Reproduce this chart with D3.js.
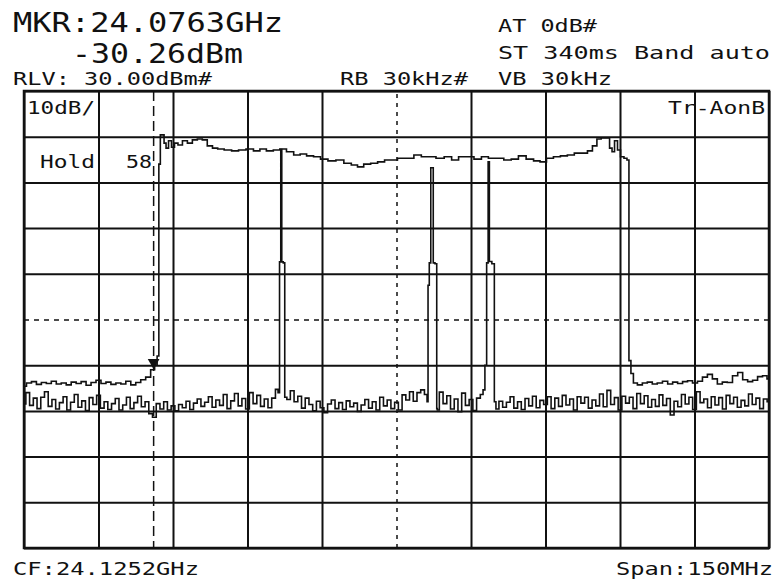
<!doctype html>
<html>
<head>
<meta charset="utf-8">
<script src="https://d3js.org/d3.v7.min.js"></script>
<style>
  body { margin: 0; background: #fff; }
  svg text { font-family: "DejaVu Sans Mono", monospace; fill: #111; }
</style>
</head>
<body>
<script>
  var W = 775, H = 583;
  var box = {left: 24, right: 769, top: 91, bottom: 548};

  // analyzer settings
  var cfMHz = 24125.2, spanMHz = 150;
  var refLevel = 30, dbPerDiv = 10, divs = 10;
  var markerMHz = 24076.3, markerDbm = -30.26;

  // trace A (max hold), [MHz from sweep start, dBm]
  var holdTrace = [
    [0,-34.6],[1,-33.9],[2,-33.6],[3,-34.2],[4,-33.8],[5,-34.0],[6,-33.5],[7,-34.1],[8,-33.9],[9,-34.3],
    [10,-33.7],[11,-34.0],[12,-33.6],[13,-34.4],[14,-33.8],[15,-33.3],[16,-34.0],[17,-33.7],[18,-34.2],
    [19,-33.9],[20,-34.1],[21,-33.5],[22,-34.3],[23,-33.8],[24,-33.2],[25,-32.6],[26,-31.0],[26.6,-30.0],
    [27.0,-28],[27.3,14],[27.6,20.4],[28.0,20.4],[28.4,18.6],[28.8,17.5],[29.4,19.1],[30.0,17.7],[30.6,18.6],
    [31.4,18.2],[32.4,19.1],[33.4,18.6],[34.4,19.3],[35.4,19.5],[36.4,19.3],[37.4,18.0],[38.5,17.5],
    [39.5,17.3],[41.1,17.1],[42.5,16.9],[43.9,17.1],[45.5,17.3],[46.9,16.9],[48.1,17.3],[49.5,16.9],
    [50.9,17.1],[52.1,17.3],[53.6,16.7],[55.0,16.0],[56.2,16.2],[57.6,15.8],[59.0,15.6],[60.4,15.1],
    [62.0,14.7],[63.6,14.9],[65.2,14.2],[66.6,13.8],[67.7,13.4],[69.1,14.0],[70.5,14.2],[71.9,14.5],
    [73.3,14.9],[74.7,14.9],[75.7,15.3],[77.7,15.3],[79.3,16.0],[80.7,15.6],[82.1,15.6],[83.8,15.3],
    [85.4,15.6],[86.8,14.9],[88.2,15.6],[89.8,15.6],[91.4,15.1],[92.8,15.6],[94.2,15.3],[95.8,15.3],
    [97.4,14.9],[98.8,15.1],[100.3,15.8],[101.9,15.1],[103.3,14.7],[104.5,14.5],[105.9,15.3],[107.3,15.6],
    [108.7,15.8],[110.1,16.0],[111.5,16.4],[112.9,16.4],[114.0,16.9],[114.9,18.0],[115.8,19.5],[116.6,19.7],
    [117.6,19.7],[118.2,17.5],[118.6,16.7],[119.2,19.1],[119.8,17.1],[120.4,15.6],[121.2,15.3],[121.6,14.9],
    [122.0,-29],[122.4,-31.8],[123.0,-33.9],[124.0,-34.3],[125.0,-33.9],[126.0,-33.7],[127.0,-34.1],
    [128.0,-33.9],[129.1,-33.5],[130.1,-34.1],[131.1,-33.7],[132.1,-34.0],[133.1,-33.6],[134.1,-33.4],
    [135.1,-33.9],[136.1,-33.5],[137.1,-32.6],[138.1,-32.0],[139.1,-33.0],[140.1,-34.1],[141.1,-33.7],
    [142.1,-33.8],[143.2,-32.3],[144.2,-31.6],[145.2,-33.2],[146.2,-33.6],[147.2,-33.3],[148.2,-32.5],
    [149.2,-32.3],[150.0,-33.0]
  ];

  // trace B (clear/write) noise, one value every 0.75 MHz
  var noiseStep = 0.75;
  var writeNoise = [
    -38.5,-36.0,-38.8,-37.2,-39.5,-37.0,-35.8,-39.0,-37.5,-39.6,-38.2,-36.9,-39.8,-38.1,-36.4,-39.2,
    -37.8,-39.9,-37.1,-38.6,-36.6,-39.4,-38.0,-39.7,-38.4,-37.3,-39.8,-38.7,-37.0,-39.5,-38.2,-36.8,
    -39.1,-38.0,-40.6,-41.4,-38.4,-39.6,-38.0,-39.8,-38.9,-40.0,-38.6,-39.3,-37.9,-39.7,-38.3,-37.4,
    -39.0,-38.1,-36.9,-39.2,-37.6,-38.8,-36.4,-39.5,-37.8,-36.2,-38.9,-37.3,-39.6,-36.0,-38.4,-36.6,
    -39.0,-37.4,-39.3,-37.2,-35.3,-37.0,-36.2,-37.5,-35.6,-38.0,-36.8,-39.4,-37.2,-38.6,-40.0,-37.9,
    -39.3,-40.4,-38.5,-37.6,-39.5,-38.2,-39.7,-37.8,-39.1,-38.3,-40.1,-38.7,-37.5,-39.4,-38.0,-39.8,
    -37.0,-38.9,-37.6,-39.5,-38.1,-39.8,-36.5,-37.6,-35.8,-37.9,-36.0,-35.4,-36.4,-36.0,-37.0,-39.8,
    -35.9,-38.4,-36.7,-39.6,-37.4,-40.2,-36.1,-38.8,-37.5,-39.9,-37.2,-36.4,-35.8,-36.0,-38.0,-39.6,
    -37.9,-39.2,-38.1,-36.9,-39.4,-38.0,-39.7,-37.3,-38.9,-36.8,-39.3,-37.7,-38.6,-36.9,-39.5,-37.2,
    -39.0,-36.6,-38.7,-37.4,-39.8,-36.9,-38.3,-37.0,-39.4,-37.6,-38.9,-36.3,-39.1,-35.5,-38.6,-37.1,
    -39.8,-36.8,-38.3,-37.0,-39.5,-36.2,-38.4,-36.7,-39.2,-37.5,-39.0,-36.5,-38.8,-37.3,-40.9,-37.9,
    -39.1,-36.4,-38.5,-37.0,-39.7,-35.8,-38.2,-37.4,-39.3,-36.9,-38.7,-37.1,-39.6,-36.6,-38.4,-37.0,
    -39.2,-37.7,-38.9,-36.3,-38.6,-37.2,-39.5,-37.4,-38.0
  ];

  // trace B spikes, [MHz from sweep start, dBm]
  var writePeaks = [
    [[51.3,-36.0],[51.6,-7.4],[51.8,17.2],[52.0,-7.4],[52.4,-7.6],[52.6,-37.0]],
    [[81.3,-38.0],[81.4,-12.5],[81.8,-7.6],[82.0,13.2],[82.3,13.2],[82.5,-7.6],[83.0,-7.8],[83.2,-39.5]],
    [[92.6,-35.4],[93.0,-30.0],[93.3,-7.6],[93.6,14.5],[93.8,-7.3],[94.6,-7.8],[94.8,-38.0]]
  ];

  var headLines = ["MKR:24.0763GHz", "-30.26dBm"];
  var setLines = ["RLV: 30.00dBm#", "RB 30kHz#", "AT 0dB#", "ST 340ms  Band auto", "VB 30kHz"];
  var footLines = ["CF:24.1252GHz", "Span:150MHz"];

  var svg = d3.select("body").append("svg")
    .attr("width", W)
    .attr("height", H);

  var x = d3.scaleLinear().domain([0, spanMHz]).range([box.left, box.right]);
  var y = d3.scaleLinear().domain([refLevel - dbPerDiv * divs, refLevel]).range([box.bottom, box.top]);

  // grid from the axes, centre lines dashed
  var gx = svg.append("g")
    .attr("transform", "translate(0," + box.bottom + ")")
    .call(d3.axisBottom(x).tickValues(d3.range(0, spanMHz + 1, spanMHz / divs))
      .tickSize(-(box.bottom - box.top)).tickFormat(""));
  var gy = svg.append("g")
    .attr("transform", "translate(" + box.left + ",0)")
    .call(d3.axisLeft(y).tickValues(d3.range(refLevel - dbPerDiv * divs, refLevel + 1, dbPerDiv))
      .tickSize(-(box.right - box.left)).tickFormat(""));
  svg.selectAll(".domain").remove();
  svg.selectAll(".tick line")
    .attr("stroke", "#111")
    .attr("stroke-width", 2);
  gx.selectAll(".tick line").filter(function(d){ return d === spanMHz / 2; })
    .attr("stroke-width", 1.5).attr("stroke-dasharray", "4,5");
  gy.selectAll(".tick line").filter(function(d){ return d === refLevel - dbPerDiv * divs / 2; })
    .attr("stroke-width", 1.5).attr("stroke-dasharray", "5,5");

  svg.append("rect")
    .attr("x", box.left).attr("y", box.top)
    .attr("width", box.right - box.left).attr("height", box.bottom - box.top)
    .attr("fill", "none").attr("stroke", "#111").attr("stroke-width", 2.5);

  // merge noise with the spikes
  var spans = writePeaks.map(function(p){ return [p[0][0], p[p.length - 1][0]]; });
  var writeTrace = writeNoise.map(function(v, i){ return [i * noiseStep, v]; })
    .filter(function(d){ return !spans.some(function(s){ return d[0] >= s[0] && d[0] <= s[1]; }); })
    .concat(d3.merge(writePeaks))
    .sort(function(a, b){ return a[0] - b[0]; });

  var line = d3.line()
    .x(function(d){ return x(d[0]); })
    .y(function(d){ return y(d[1]); })
    .curve(d3.curveStep);

  svg.append("path").datum(writeTrace)
    .attr("d", line).attr("fill", "none")
    .attr("stroke", "#111").attr("stroke-width", 1.6);
  svg.append("path").datum(holdTrace)
    .attr("d", line).attr("fill", "none")
    .attr("stroke", "#111").attr("stroke-width", 1.6);

  // marker
  var mx = x(markerMHz - (cfMHz - spanMHz / 2));
  svg.append("line")
    .attr("x1", mx).attr("x2", mx).attr("y1", box.top).attr("y2", box.bottom)
    .attr("stroke", "#111").attr("stroke-width", 1.5).attr("stroke-dasharray", "10,5");
  svg.append("path")
    .attr("d", d3.symbol().type(d3.symbolTriangle).size(60))
    .attr("transform", "translate(" + mx + "," + (y(markerDbm) - 4) + ") rotate(180)")
    .attr("fill", "#111");

  function label(t, x0, base, size, len) {
    svg.append("text")
      .attr("x", x0).attr("y", base)
      .attr("font-size", size)
      .attr("textLength", len).attr("lengthAdjust", "spacingAndGlyphs")
      .text(t);
  }

  label(headLines[0], 13, 32, 27, 270);
  label(headLines[1], 72, 63, 27, 171);
  label(setLines[0], 13, 85, 18, 199);
  label(setLines[1], 340, 85, 18, 128);
  label(setLines[2], 498, 32, 18, 99);
  label(setLines[3], 498, 59, 18, 272);
  label(setLines[4], 498, 85, 18, 114);
  label("10dB/", 27, 114, 18, 68);
  label("Hold", 40, 168, 18, 55);
  label("58", 126, 168, 18, 26);
  label("Tr-AonB", 668, 114, 18, 97);
  label(footLines[0], 13, 575, 18, 186);
  label(footLines[1], 616, 575, 18, 157);
</script>
</body>
</html>
